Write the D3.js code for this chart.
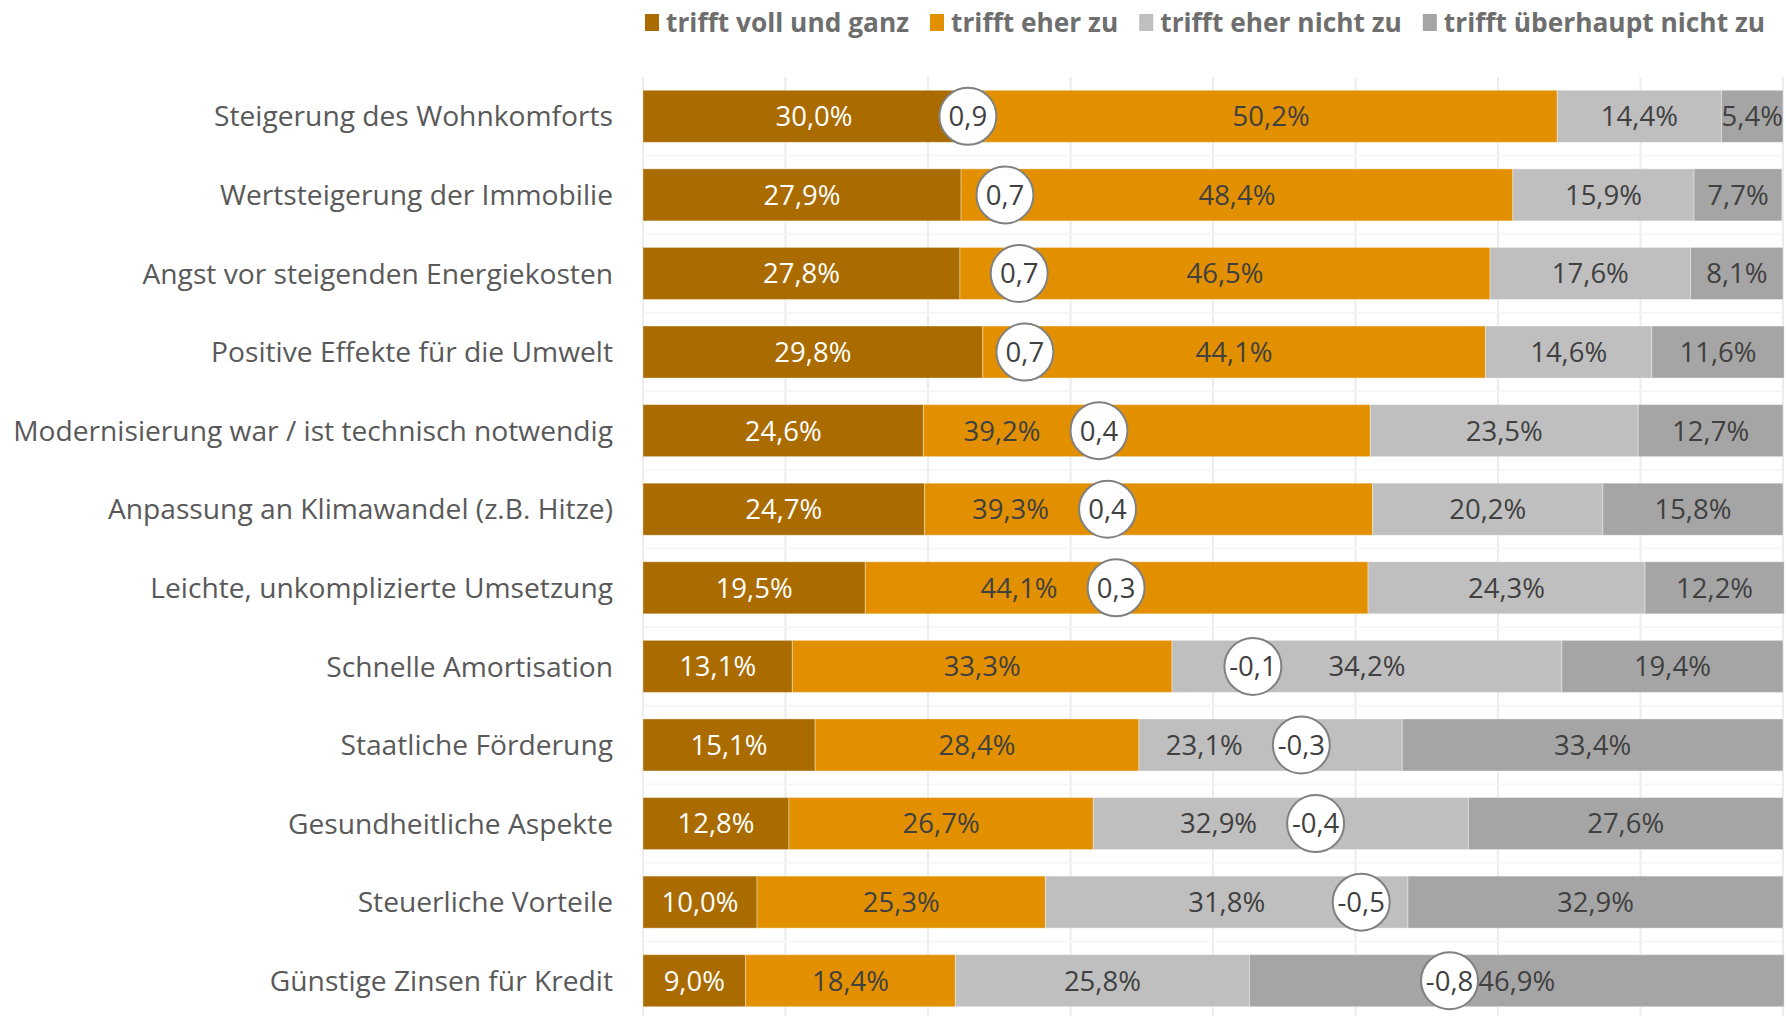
<!DOCTYPE html>
<html>
<head>
<meta charset="utf-8">
<script src="https://cdn.jsdelivr.net/npm/d3@7"></script>
<style>
  html, body { margin: 0; padding: 0; background: #ffffff; }
  svg { display: block; font-family: "Open Sans", "Noto Sans", sans-serif; }
</style>
</head>
<body>
<svg id="chart" width="1786" height="1016"></svg>
<script>
// ---- data ----
const categories = [
  "Steigerung des Wohnkomforts",
  "Wertsteigerung der Immobilie",
  "Angst vor steigenden Energiekosten",
  "Positive Effekte für die Umwelt",
  "Modernisierung war / ist technisch notwendig",
  "Anpassung an Klimawandel (z.B. Hitze)",
  "Leichte, unkomplizierte Umsetzung",
  "Schnelle Amortisation",
  "Staatliche Förderung",
  "Gesundheitliche Aspekte",
  "Steuerliche Vorteile",
  "Günstige Zinsen für Kredit"
];
const seriesNames = ["trifft voll und ganz", "trifft eher zu", "trifft eher nicht zu", "trifft überhaupt nicht zu"];
const vollUndGanz   = [30.0, 27.9, 27.8, 29.8, 24.6, 24.7, 19.5, 13.1, 15.1, 12.8, 10.0, 9.0];
const eherZu        = [50.2, 48.4, 46.5, 44.1, 39.2, 39.3, 44.1, 33.3, 28.4, 26.7, 25.3, 18.4];
const eherNichtZu   = [14.4, 15.9, 17.6, 14.6, 23.5, 20.2, 24.3, 34.2, 23.1, 32.9, 31.8, 25.8];
const ueberhauptNicht = [5.4, 7.7, 8.1, 11.6, 12.7, 15.8, 12.2, 19.4, 33.4, 27.6, 32.9, 46.9];
// mean score (+2 = trifft voll und ganz ... -2 = trifft überhaupt nicht zu)
const means = [0.86, 0.73, 0.68, 0.66, 0.40, 0.37, 0.34, -0.14, -0.31, -0.36, -0.52, -0.83];
const meanTicks = [2, 1.5, 1, 0.5, 0, -0.5, -1, -1.5, -2];

// ---- styles ----
const colors = ["#AA6C00", "#E39000", "#BFBFBF", "#A5A5A5"];
const labelColors = ["#ffffff", "#404040", "#404040", "#404040"];

const svg = d3.select("#chart");
const margin = { left: 643, right: 3, top: 77, bottom: 0 };
const W = 1786, H = 1016;
const plotW = 1140;

const x = d3.scaleLinear().domain([0, 100]).range([margin.left, margin.left + plotW]);
const xm = d3.scaleLinear().domain([2, -2]).range([margin.left, margin.left + plotW]);
const y = d3.scaleBand().domain(categories).range([77, 1020]).paddingInner(0.338).paddingOuter(0.169);

const loc = d3.formatLocale({ decimal: ",", thousands: ".", grouping: [3], currency: ["", "€"], minus: "-" });
const f1 = loc.format(".1f");

// rows
const seriesArrays = [vollUndGanz, eherZu, eherNichtZu, ueberhauptNicht];
const rows = categories.map((c, i) => {
  let acc = 0;
  const segs = seriesArrays.map((arr, s) => {
    const seg = { cat: c, s, v: arr[i], x0: acc, x1: acc + arr[i] };
    acc += arr[i];
    return seg;
  });
  return { cat: c, i, segs, mean: means[i] };
});

// gridlines (vertical, from mean axis)
const grid = svg.append("g");
grid.selectAll("line.v").data(meanTicks).join("line")
  .attr("x1", d => xm(d)).attr("x2", d => xm(d))
  .attr("y1", 77).attr("y2", H)
  .attr("stroke", "#ececec").attr("stroke-width", 2);
// faint horizontal separators
const seps = categories.slice(1);
grid.selectAll("line.h").data(seps).join("line")
  .attr("x1", margin.left).attr("x2", margin.left + plotW)
  .attr("y1", d => y(d) - y.step() * y.paddingInner() / 2)
  .attr("y2", d => y(d) - y.step() * y.paddingInner() / 2)
  .attr("stroke", "#f5f5f5").attr("stroke-width", 1.5);

// bars
const bars = svg.append("g");
const rowG = bars.selectAll("g.row").data(rows).join("g").attr("class", "row");
rowG.selectAll("rect").data(d => d.segs).join("rect")
  .attr("x", d => x(d.x0))
  .attr("y", d => y(d.cat))
  .attr("width", d => x(d.x1) - x(d.x0))
  .attr("height", y.bandwidth())
  .attr("fill", d => colors[d.s])
  .attr("stroke", "#ffffff").attr("stroke-opacity", 0.35).attr("stroke-width", 1);

// category labels
svg.append("g").selectAll("text").data(categories).join("text")
  .attr("x", 613)
  .attr("y", d => y(d) + y.bandwidth() / 2)
  .attr("dy", "0.36em")
  .attr("text-anchor", "end")
  .attr("font-size", 28.2)
  .attr("fill", "#595959")
  .text(d => d);

// data labels (avoid the mean circle)
const R = 28.5;
const dl = svg.append("g");
rows.forEach(row => {
  const cx = xm(row.mean);
  row.segs.forEach(seg => {
    const t = dl.append("text")
      .attr("y", y(row.cat) + y.bandwidth() / 2)
      .attr("dy", "0.36em")
      .attr("text-anchor", "middle")
      .attr("font-size", 27.5)
      .attr("fill", labelColors[seg.s])
      .text(f1(seg.v) + "%");
    const w = t.node().getComputedTextLength();
    const a = x(seg.x0), b = x(seg.x1);
    let lx = (a + b) / 2;
    if (Math.abs(lx - cx) < R + w / 2 - 4) {
      const leftRoom = cx - R - a;
      if (leftRoom >= w + 20) lx = cx - R - 30 - w / 2;
      else lx = cx + R + 30 + w / 2;
    }
    t.attr("x", lx);
  });
});

// mean circles
const mc = svg.append("g");
const cg = mc.selectAll("g").data(rows).join("g")
  .attr("transform", d => `translate(${xm(d.mean)},${y(d.cat) + y.bandwidth() / 2})`);
cg.append("circle").attr("r", R).attr("fill", "#ffffff").attr("stroke", "#808080").attr("stroke-width", 2);
cg.append("text").attr("text-anchor", "middle").attr("dy", "0.36em")
  .attr("font-size", 27.5).attr("fill", "#404040")
  .text(d => f1(d.mean));

// legend
const lg = svg.append("g").attr("transform", "translate(645,0)");
let lx = 0;
seriesNames.forEach((name, i) => {
  lg.append("rect").attr("x", lx).attr("y", 14).attr("width", 14).attr("height", 17).attr("fill", colors[i]);
  const t = lg.append("text").attr("x", lx + 21).attr("y", 22.5).attr("dy", "0.36em")
    .attr("font-size", 26.3).attr("font-weight", "bold").attr("fill", "#6e6e6e").text(name);
  lx += 21 + t.node().getComputedTextLength() + 21;
});
</script>
</body>
</html>
